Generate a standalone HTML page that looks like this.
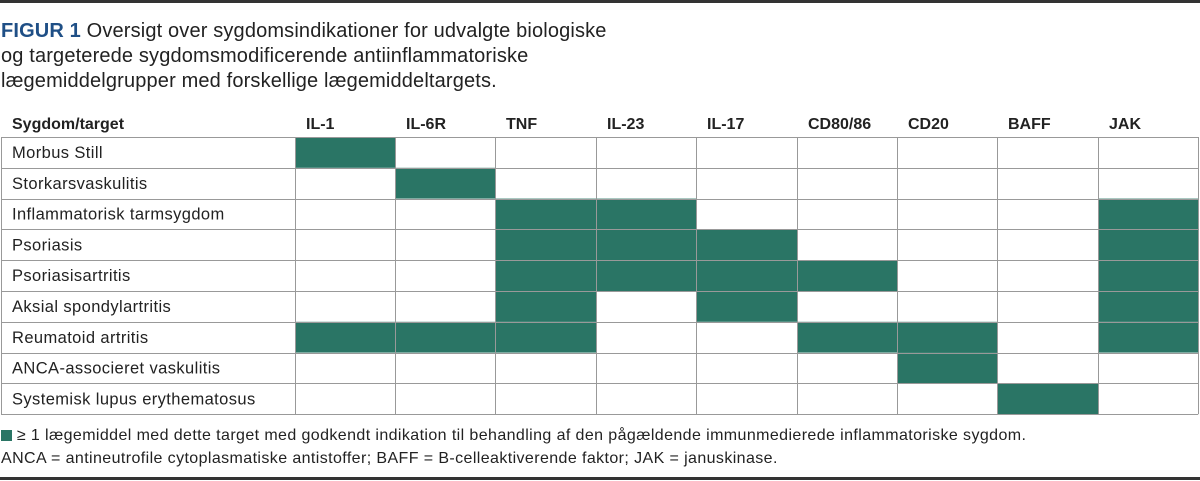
<!DOCTYPE html>
<html><head><meta charset="utf-8"><style>
body{margin:0;width:1200px;height:481px;background:#fff;overflow:hidden;font-family:"Liberation Sans",Arial,sans-serif;color:#222}
</style></head><body>
<svg width="1200" height="481" xmlns="http://www.w3.org/2000/svg" font-family="Liberation Sans, Arial, sans-serif" style="position:absolute;left:0;top:0">
<rect x="0" y="0" width="1200" height="3" fill="#333"/>
<rect x="0" y="477" width="1200" height="3" fill="#333"/>
<g font-size="20" fill="#222" letter-spacing="0.15">
<text x="1" y="37"><tspan fill="#1f4f86" font-weight="bold">FIGUR 1</tspan> Oversigt over sygdomsindikationer for udvalgte biologiske</text>
<text x="1" y="62">og targeterede sygdomsmodificerende antiinflammatoriske</text>
<text x="1" y="87">lægemiddelgrupper med forskellige lægemiddeltargets.</text>
</g>
<g font-size="16" font-weight="bold" fill="#222">
<text x="12" y="129">Sygdom/target</text>
<text x="306" y="129">IL-1</text><text x="406" y="129">IL-6R</text><text x="506" y="129">TNF</text>
<text x="607" y="129">IL-23</text><text x="707" y="129">IL-17</text><text x="808" y="129">CD80/86</text>
<text x="908" y="129">CD20</text><text x="1008" y="129">BAFF</text><text x="1109" y="129">JAK</text>
</g>
<g id="cells" fill="#2a7565"></g>
<g id="lines" stroke="#999" stroke-width="1"></g>
<g id="labels" font-size="16.5" fill="#222" letter-spacing="0.4"></g>
</svg>
<script>
var cols=[1,295,395,495,596,696,797,897,997,1098,1198];
var y0=137,h=30.8;
var rows=[["Morbus Still",[0]],["Storkarsvaskulitis",[1]],["Inflammatorisk tarmsygdom",[2,3,8]],["Psoriasis",[2,3,4,8]],["Psoriasisartritis",[2,3,4,5,8]],["Aksial spondylartritis",[2,4,8]],["Reumatoid artritis",[0,1,2,5,6,8]],["ANCA-associeret vaskulitis",[6]],["Systemisk lupus erythematosus",[7]]];
var ns="http://www.w3.org/2000/svg";
function el(t,a,p){var e=document.createElementNS(ns,t);for(var k in a)e.setAttribute(k,a[k]);document.getElementById(p).appendChild(e);return e;}
rows.forEach(function(r,i){var y=y0+i*h;
 r[1].forEach(function(c){el("rect",{x:cols[c+1],y:y,width:cols[c+2]-cols[c+1],height:h},"cells");});
 var t=el("text",{x:12,y:y+21},"labels");t.textContent=r[0];});
for(var i=0;i<=9;i++){var y=Math.round(y0+i*h)+0.5;el("line",{x1:1,x2:1198,y1:y,y2:y},"lines");}
cols.forEach(function(x){el("line",{x1:x+0.5,x2:x+0.5,y1:y0,y2:y0+9*h},"lines");});
</script>
<div style="position:absolute;left:1px;top:424px;font-size:16px;letter-spacing:0.4px;line-height:23px;color:#222;white-space:nowrap">
<span style="display:inline-block;width:11px;height:11px;background:#2a7565;vertical-align:-1px"></span> ≥ 1 lægemiddel med dette target med godkendt indikation til behandling af den pågældende immunmedierede inflammatoriske sygdom.<br>
ANCA = antineutrofile cytoplasmatiske antistoffer; BAFF = B-celleaktiverende faktor; JAK = januskinase.
</div>
</body></html>
